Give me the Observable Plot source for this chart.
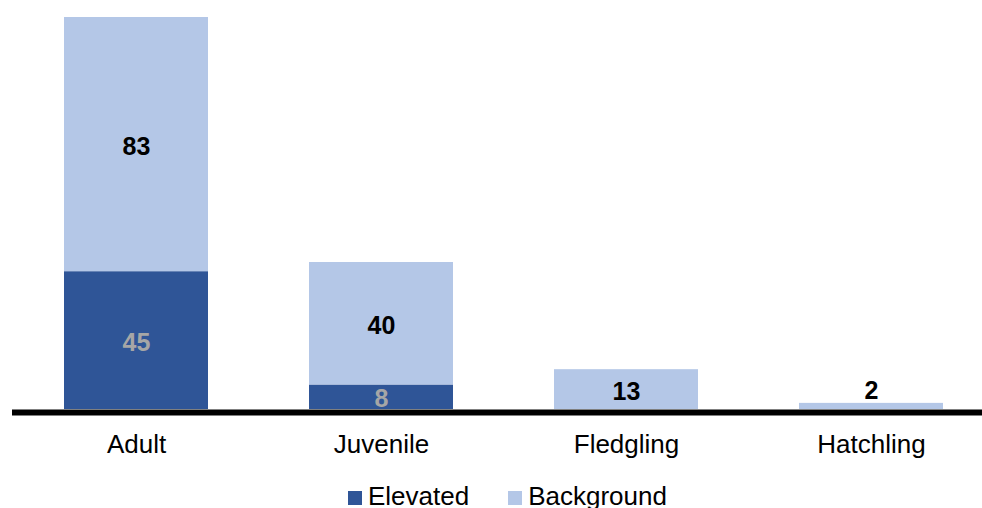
<!DOCTYPE html>
<html>
<head>
<meta charset="utf-8">
<script src="https://cdn.jsdelivr.net/npm/d3@7"></script>
<script src="https://cdn.jsdelivr.net/npm/@observablehq/plot@0.6"></script>
<style>
  body { margin: 0; background: #fff; font-family: "Liberation Sans", Arial, sans-serif; }
  #chart svg { display: block; }
  #legend { font-size: 26px; line-height: 26px; padding-top: 3px; padding-left: 348px; white-space: nowrap; color: #000; }
  .item { display: inline-block; margin-right: 39px; }
  .sw { display: inline-block; width: 14px; height: 14px; margin-right: 6px; vertical-align: baseline; }
</style>
</head>
<body>
<div id="chart"></div>
<div id="legend"></div>
<script>
const categories = ["Adult", "Juvenile", "Fledgling", "Hatchling"];
const elevated = [45, 8, 0, 0];
const background = [83, 40, 13, 2];
const seriesNames = ["Elevated", "Background"];
const seriesColors = ["#2f5597", "#b4c7e7"];
const labelColors = ["#a6a6a6", "#000000"];

const rows = [];
categories.forEach((c, i) => {
  const e = elevated[i], b = background[i];
  rows.push({category: c, series: "Elevated", value: e, y1: 0, y2: e});
  rows.push({category: c, series: "Background", value: b, y1: e, y2: e + b});
});
const inside = rows.filter(d => d.value >= 5);
const outside = rows.filter(d => d.value > 0 && d.value < 5);

const chart = Plot.plot({
  width: 982,
  height: 480,
  marginTop: 17,
  marginBottom: 71,
  marginLeft: 12,
  marginRight: 0,
  style: {fontFamily: '"Liberation Sans", Arial, sans-serif', fontSize: "26px", background: "#fff"},
  x: {type: "band", domain: categories, range: [13, 994.3], paddingInner: 0.4106, paddingOuter: 0.2, align: 0.5, axis: null},
  y: {domain: [0, 128], axis: null},
  color: {domain: seriesNames, range: seriesColors},
  marks: [
    Plot.barY(rows.filter(d => d.value > 0), {x: "category", y1: "y1", y2: "y2", fill: "series"}),
    Plot.ruleY([0], {stroke: "#000", strokeWidth: 6, dy: 3}),
    Plot.text(inside, {
      x: "category", y: d => (d.y1 + d.y2) / 2, text: d => String(d.value),
      fill: d => labelColors[seriesNames.indexOf(d.series)],
      fontSize: 25, fontWeight: "bold", dy: 2
    }),
    Plot.text(outside, {
      x: "category", y: "y2", text: d => String(d.value),
      fill: d => labelColors[seriesNames.indexOf(d.series)],
      fontSize: 25, fontWeight: "bold", dy: -12
    }),
    Plot.axisX({tickSize: 0, tickPadding: 25, label: null, fill: "#000"})
  ]
});
document.getElementById("chart").appendChild(chart);

const legend = document.getElementById("legend");
seriesNames.forEach((s, i) => {
  const item = document.createElement("span");
  item.className = "item";
  const sw = document.createElement("span");
  sw.className = "sw";
  sw.style.background = seriesColors[i];
  item.appendChild(sw);
  item.appendChild(document.createTextNode(s));
  legend.appendChild(item);
});
</script>
</body>
</html>
